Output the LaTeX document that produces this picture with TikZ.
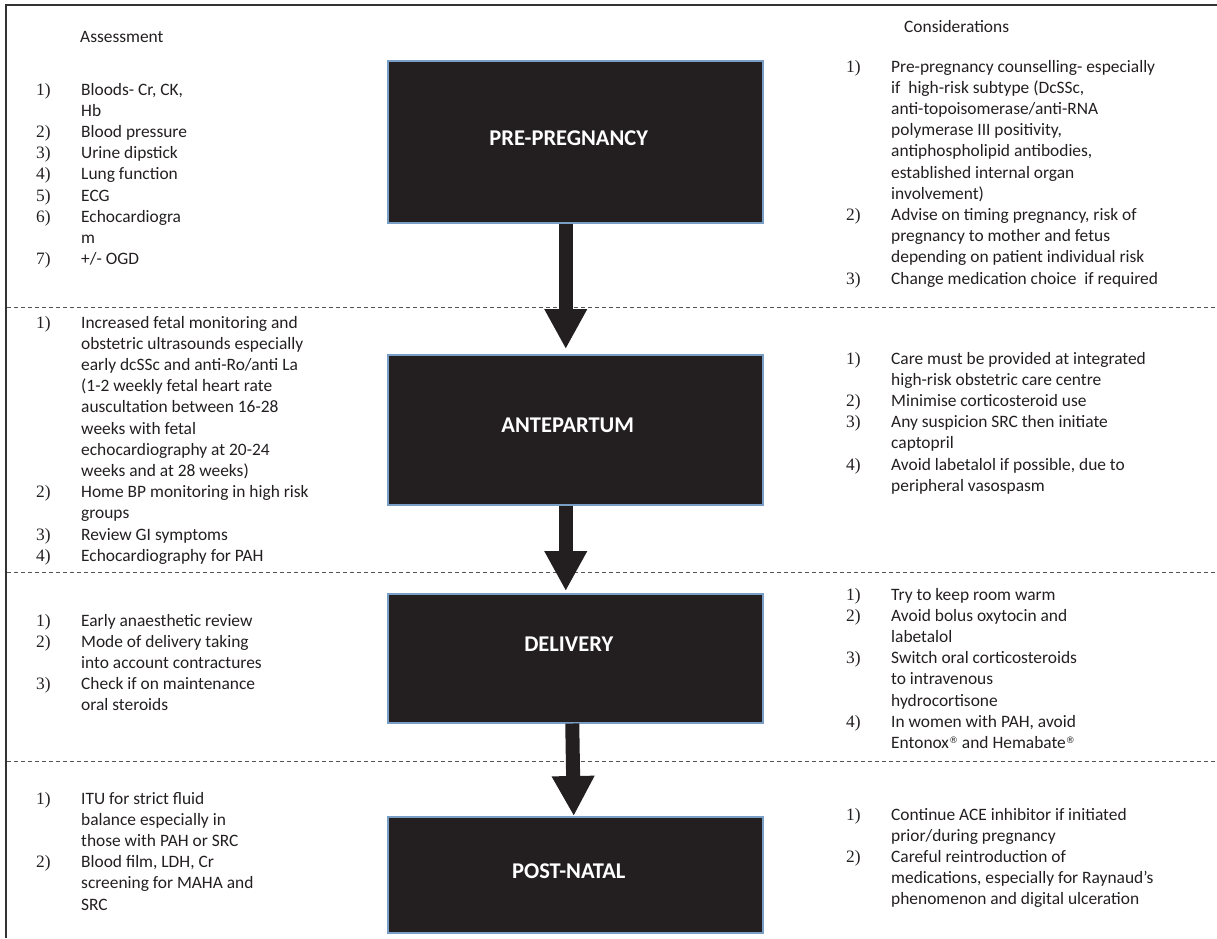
\documentclass[tikz,border=0pt]{standalone}
\usepackage{fontspec}
\setmainfont{Carlito}
\newfontfamily\numfont{Liberation Serif}
\newfontfamily\symfont{DejaVu Sans}
\usetikzlibrary{arrows.meta,calc}
\definecolor{boxfill}{HTML}{231F20}
\definecolor{boxedge}{HTML}{7A9FC6}
\definecolor{sepgray}{HTML}{555555}
\definecolor{framegray}{HTML}{333333}
\definecolor{textcol}{HTML}{231F20}
\newcommand{\nlist}[1]{\begin{tabular}[t]{@{}p{45pt}@{}l@{}}#1\end{tabular}}
\newcommand{\nn}[1]{{\numfont #1}}
\newcommand{\reg}{\raisebox{5pt}{\symfont\fontsize{9}{9}\selectfont ®}}
\tikzset{
  txt/.style={inner sep=0pt, anchor=base west, font=\fontsize{17.4}{21.2}\selectfont, text=textcol},
  stagebox/.style={draw=boxedge, line width=1.5pt, fill=boxfill, minimum width=375pt, inner sep=0pt, anchor=north west},
  stagelabel/.style={inner sep=0pt, text=white, font=\fontsize{22.5}{26}\selectfont\bfseries},
  flowarrow/.style={line width=14pt, draw=boxfill, -{Triangle[width=40pt,length=40pt,fill=boxfill]}},
  sepline/.style={draw=sepgray, line width=1pt, dash pattern=on 4pt off 3pt},
  frameline/.style={draw=framegray, line width=2pt}
}
\begin{document}
\begin{tikzpicture}[x=1pt,y=-1pt]
\useasboundingbox (0,0) rectangle (1217,938);
% frame and separators
\draw[frameline] (6,938) -- (6,5) -- (1217,5);
\draw[sepline] (7,307) -- (1217,307);
\draw[sepline] (7,572) -- (1217,572);
\draw[sepline] (7,761) -- (1217,761);
% stage boxes
\node[stagebox, minimum height=162pt] (pp) at (387,60) {};
\node[stagebox, minimum height=150pt] (ap) at (387,354) {};
\node[stagebox, minimum height=129pt] (dl) at (387,593) {};
\node[stagebox, minimum height=116pt] (pn) at (387,816) {};
\node[stagelabel] (ppt) at ($(pp.center)+(-6.5,-4)$) {PRE-PREGNANCY};
\node[stagelabel] (apt) at ($(ap.center)+(-7.5,-4)$) {ANTEPARTUM};
\node[stagelabel] (dlt) at ($(dl.center)+(-6.5,-14.5)$) {DELIVERY};
\node[stagelabel] (pnt) at ($(pn.center)+(-6.5,-4)$) {POST-NATAL};
% arrows
\draw[flowarrow] ($(pp.south)+(-9.5,0)$) -- ($(ap.north)+(-9.5,-5)$);
\draw[flowarrow] ($(ap.south)+(-9.5,0)$) -- ($(dl.north)+(-9.5,-2)$);
\draw[flowarrow] ($(dl.south)+(-3,0)$) -- ($(pn.north)+(-1.5,0)$);
% headings
\node[txt] (assess) at (80,42) {Assessment};
\node[txt] (consid) at (904,32) {Considerations};
% pre-pregnancy
\node[txt] (ppa) at (36,95) {\nlist{
\nn{1)} & Bloods- Cr, CK,\\
 & Hb\\
\nn{2)} & Blood pressure\\
\nn{3)} & Urine dipstick\\
\nn{4)} & Lung function\\
\nn{5)} & ECG\\
\nn{6)} & Echocardiogra\\
 & m\\
\nn{7)} & +/- OGD}};
\node[txt] (ppc) at (846,72) {\nlist{
\nn{1)} & Pre-pregnancy counselling- especially\\
 & if~ high-risk subtype (DcSSc,\\
 & anti-topoisomerase/anti-RNA\\
 & polymerase III positivity,\\
 & antiphospholipid antibodies,\\
 & established internal organ\\
 & involvement)\\
\nn{2)} & Advise on timing pregnancy, risk of\\
 & pregnancy to mother and fetus\\
 & depending on patient individual risk\\
\nn{3)} & Change medication choice~ if required}};
% antepartum
\node[txt] (apa) at (36,328) {\nlist{
\nn{1)} & Increased fetal monitoring and\\
 & obstetric ultrasounds especially\\
 & early dcSSc and anti-Ro/anti La\\
 & (1-2 weekly fetal heart rate\\
 & auscultation between 16-28\\
 & weeks with fetal\\
 & echocardiography at 20-24\\
 & weeks and at 28 weeks)\\
\nn{2)} & Home BP monitoring in high risk\\
 & groups\\
\nn{3)} & Review GI symptoms\\
\nn{4)} & Echocardiography for PAH}};
\node[txt] (apc) at (846,364) {\nlist{
\nn{1)} & Care must be provided at integrated\\
 & high-risk obstetric care centre\\
\nn{2)} & Minimise corticosteroid use\\
\nn{3)} & Any suspicion SRC then initiate\\
 & captopril\\
\nn{4)} & Avoid labetalol if possible, due to\\
 & peripheral vasospasm}};
% delivery
\node[txt] (dla) at (36,626) {\nlist{
\nn{1)} & Early anaesthetic review\\
\nn{2)} & Mode of delivery taking\\
 & into account contractures\\
\nn{3)} & Check if on maintenance\\
 & oral steroids}};
\node[txt] (dlc) at (846,600) {\nlist{
\nn{1)} & Try to keep room warm\\
\nn{2)} & Avoid bolus oxytocin and\\
 & labetalol\\
\nn{3)} & Switch oral corticosteroids\\
 & to intravenous\\
 & hydrocortisone\\
\nn{4)} & In women with PAH, avoid\\
 & Entonox\reg{} and Hemabate\reg}};
% post-natal
\node[txt] (pna) at (36,804) {\nlist{
\nn{1)} & ITU for strict fluid\\
 & balance especially in\\
 & those with PAH or SRC\\
\nn{2)} & Blood film, LDH, Cr\\
 & screening for MAHA and\\
 & SRC}};
\node[txt] (pnc) at (846,820) {\nlist{
\nn{1)} & Continue ACE inhibitor if initiated\\
 & prior/during pregnancy\\
\nn{2)} & Careful reintroduction of\\
 & medications, especially for Raynaud’s\\
 & phenomenon and digital ulceration}};
\end{tikzpicture}
\end{document}
